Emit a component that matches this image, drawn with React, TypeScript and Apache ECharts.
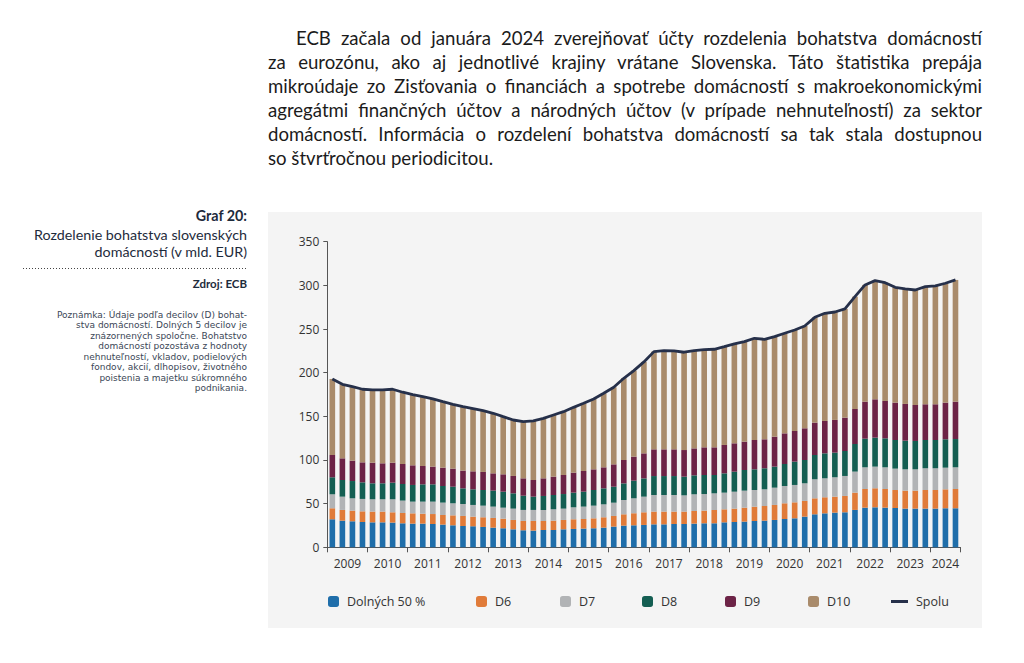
import React, { useEffect, useRef } from "react";
import * as echarts from "echarts";

const years = ["2009","2010","2011","2012","2013","2014","2015","2016","2017","2018","2019","2020","2021","2022","2023","2024"];
const quartersPerYear = ["Q1","Q2","Q3","Q4"];
const lastQuarter = "2024Q3";

const dolnych50 = [32.1,30.5,29.8,29.0,28.6,28.6,28.3,27.5,27.1,27.1,26.7,26.0,25.2,24.4,24.1,23.3,22.5,21.8,20.6,19.5,19.1,19.8,19.8,20.6,21.0,21.4,21.8,22.5,23.7,24.8,25.2,25.6,26.3,26.3,26.7,26.7,27.1,27.5,27.5,28.6,29.0,29.4,30.1,30.5,31.3,32.4,33.2,35.1,37.8,38.9,39.7,40.1,42.8,45.4,45.8,45.4,45.0,44.3,44.3,44.3,44.3,44.7,44.7];
const d6 = [12.6,12.3,12.2,12.2,12.3,12.3,11.8,11.8,11.8,11.4,11.4,11.0,11.4,11.5,11.0,11.1,11.1,11.0,10.7,10.7,11.1,10.3,10.7,10.7,11.1,11.0,11.4,11.9,12.2,13.0,13.8,14.5,14.6,14.6,14.2,14.2,14.5,14.5,15.2,14.9,15.3,16.0,16.4,16.8,17.2,18.0,18.3,18.0,18.3,18.4,18.3,18.7,19.8,21.4,21.8,21.4,20.6,20.6,20.6,21.3,21.3,21.7,22.1];
const d7 = [16.0,15.2,14.1,14.2,14.1,14.1,14.9,14.2,13.4,13.8,14.2,14.2,13.8,13.7,13.4,13.3,13.0,12.6,13.0,12.6,12.6,12.6,13.0,13.0,13.7,14.2,14.5,14.8,15.2,16.4,17.1,17.9,19.0,19.0,19.0,18.6,19.1,19.0,19.1,19.1,19.4,19.5,19.1,19.1,19.8,19.8,19.9,20.2,21.8,21.7,22.2,22.9,24.1,24.8,24.8,24.8,24.5,24.4,24.4,24.9,24.9,24.8,24.8];
const d8 = [19.5,19.1,19.8,19.0,18.3,18.3,19.0,19.0,19.1,19.8,19.8,19.0,19.0,17.9,17.9,17.9,18.3,18.3,17.5,16.3,15.2,16.1,16.4,16.7,16.8,17.1,17.9,18.3,18.3,19.0,20.2,20.9,21.7,21.7,21.7,21.4,21.7,21.8,21.0,22.1,22.9,23.6,23.7,24.1,24.1,25.2,26.7,26.7,27.8,28.6,28.2,28.6,31.6,32.8,33.2,33.2,32.8,32.8,32.5,32.4,32.4,32.5,32.4];
const d9 = [25.5,24.8,23.3,22.9,23.6,22.9,22.9,22.9,22.5,21.0,20.3,21.0,20.7,20.3,20.6,20.7,19.8,19.9,19.9,19.9,19.1,20.2,21.0,21.8,22.9,23.7,23.7,24.1,25.6,26.8,27.5,28.7,30.6,30.6,30.6,30.5,30.9,31.7,31.7,32.5,32.5,32.5,33.6,33.2,34.3,35.1,35.1,36.3,37.1,37.1,37.5,38.2,40.1,42.4,43.9,42.8,42.8,42.1,41.2,40.9,40.9,42.0,42.8];
const d10 = [87.1,84.8,84.8,83.7,83.3,84.0,84.1,82.2,80.9,79.4,77.5,75.6,73.7,73.3,71.8,70.2,68.8,66.0,64.1,64.9,67.6,68.7,70.6,72.5,74.8,77.5,80.6,84.8,88.3,93.6,98.5,104.7,111.9,113.0,112.7,112.0,111.9,111.8,112.3,112.6,113.8,114.5,116.5,114.5,114.5,114.6,115.7,117.2,120.6,123.3,123.6,124.5,128.7,133.7,135.9,135.5,132.1,131.7,131.7,134.7,135.5,136.7,139.4];
const spolu = [192.8,186.7,184.0,181.0,180.2,180.2,181.0,177.6,174.8,172.5,169.9,166.8,163.8,161.1,158.8,156.5,153.5,149.6,145.8,143.9,144.7,147.7,151.5,155.3,160.3,164.9,169.9,176.4,183.3,193.6,202.3,212.3,224.1,225.2,224.9,223.4,225.2,226.3,226.8,229.8,232.9,235.5,239.4,238.2,241.2,245.1,248.9,253.5,263.4,268.0,269.5,273.0,287.1,300.5,305.4,303.1,297.8,295.9,294.7,298.5,299.3,302.4,306.2];

const yTicks = { min: 0, max: 350, interval: 50 };

const seriesNames = ["Dolných 50 %", "D6", "D7", "D8", "D9", "D10", "Spolu"];
const seriesColors = ["#1f6eaa", "#e07b39", "#b1b3b5", "#145e52", "#6c2346", "#a98b6b", "#26304a"];
const legendLefts = [328, 476, 560, 642, 725, 808, 891];

const paragraphLines = [
  "ECB začala od januára 2024 zverejňovať účty rozdelenia bohatstva domácností",
  "za eurozónu, ako aj jednotlivé krajiny vrátane Slovenska. Táto štatistika prepája",
  "mikroúdaje zo Zisťovania o financiách a spotrebe domácností s makroekonomickými",
  "agregátmi finančných účtov a národných účtov (v prípade nehnuteľností) za sektor",
  "domácností. Informácia o rozdelení bohatstva domácností sa tak stala dostupnou",
  "so štvrťročnou periodicitou.",
];

const titleLines = ["Rozdelenie bohatstva slovenských", "domácností (v mld. EUR)"];
const noteLines = [
  "Poznámka: Údaje podľa decilov (D) bohat-",
  "stva domácností. Dolných 5 decilov je",
  "znázornených spoločne. Bohatstvo",
  "domácností pozostáva z hodnoty",
  "nehnuteľností, vkladov, podielových",
  "fondov, akcií, dlhopisov, životného",
  "poistenia a majetku súkromného",
  "podnikania.",
];

const categories: string[] = [];
for (const y of years) {
  for (const q of quartersPerYear) {
    if (categories.length && categories[categories.length - 1] === lastQuarter) break;
    categories.push(y + q);
  }
}

export default function App() {
  const ref = useRef<HTMLDivElement>(null);
  useEffect(() => {
    if (!ref.current) return;
    const chart = echarts.init(ref.current, null, { renderer: "svg" });
    const barData = [dolnych50, d6, d7, d8, d9, d10];
    const font = "'Open Sans', sans-serif";
    const side = "Lato, sans-serif";
    const graphic: any[] = [
      { type: "text", x: 247, y: 208, style: { text: "Graf 20:", align: "right", verticalAlign: "top", font: `bold 14.3px ${side}`, fill: "#1e2b3c" } },
      { type: "text", x: 247, y: 226, style: { text: titleLines.join("\n"), align: "right", verticalAlign: "top", lineHeight: 17, font: `14.3px ${side}`, fill: "#1e2b3c" } },
      { type: "line", shape: { x1: 23, y1: 268.5, x2: 248, y2: 268.5 }, style: { stroke: "#444", lineWidth: 1, lineDash: [1, 2] } },
      { type: "text", x: 247, y: 277, style: { text: "Zdroj: ECB", align: "right", verticalAlign: "top", font: `bold 11.5px ${side}`, fill: "#1e2b3c" } },
      { type: "text", x: 247, y: 309.3, style: { text: noteLines.join("\n"), align: "right", verticalAlign: "top", lineHeight: 10.5, font: `9px 'DejaVu Sans', sans-serif`, fill: "#3a4656" } },
    ];
    const option: any = {
      animation: false,
      graphic,
      grid: { left: 327.3, right: 63.5, top: 241.7, bottom: 115.7, containLabel: false },
      legend: seriesNames.map((n, i) => ({
        data: [i === 6 ? { name: n, icon: "rect" } : n],
        left: legendLefts[i],
        top: 595,
        itemWidth: i === 6 ? 17 : 11,
        itemHeight: i === 6 ? 3 : 11,
        padding: 0,
        selectedMode: false,
        textStyle: { fontFamily: font, fontSize: 12.5, color: "#333", padding: [0, 0, 0, 3] },
      })),
      xAxis: {
        type: "category",
        data: categories,
        boundaryGap: true,
        axisLine: { show: true, lineStyle: { color: "#555", width: 1 } },
        axisTick: { show: true, length: 5, lineStyle: { color: "#555" }, interval: (idx: number) => idx % 4 === 0 },
        axisLabel: {
          interval: (idx: number) => idx % 4 === 1,
          margin: 10,
          formatter: (v: string) => {
            const y = v.slice(0, 4);
            return y === "2024" ? `{c|${y}}` : `{s|${y}}`;
          },
          rich: {
            s: { padding: [0, 0, 0, 10], fontFamily: font, fontSize: 12, color: "#333" },
            c: { fontFamily: font, fontSize: 12, color: "#333" },
          },
        },
        splitLine: { show: false },
      },
      yAxis: {
        type: "value",
        min: yTicks.min,
        max: yTicks.max,
        interval: yTicks.interval,
        axisLine: { show: true, lineStyle: { color: "#555", width: 1 } },
        axisTick: { show: true, length: 4, lineStyle: { color: "#555" } },
        axisLabel: { margin: 8, fontFamily: font, fontSize: 12, color: "#333" },
        splitLine: { show: false },
      },
      series: [
        ...barData.map((d, i) => ({
          name: seriesNames[i],
          type: "bar",
          stack: "total",
          data: d,
          barCategoryGap: "44%",
          itemStyle: { color: seriesColors[i] },
        })),
        {
          name: "Spolu",
          type: "line",
          data: spolu,
          symbol: "none",
          lineStyle: { color: seriesColors[6], width: 2.8 },
          itemStyle: { color: seriesColors[6] },
          z: 5,
        },
      ],
    };
    chart.setOption(option);
    return () => chart.dispose();
  }, []);

  return (
    <div style={{ position: "absolute", left: 0, top: 0, width: 1024, height: 663, background: "#fff", overflow: "hidden" }}>
      <div style={{ position: "absolute", left: 268, top: 212, width: 714, height: 416, background: "#f4f4f4" }} />
      <div style={{ position: "absolute", left: 268, top: 26, width: 714, fontFamily: "Lato, sans-serif", fontSize: 18.6, lineHeight: "24px", color: "#1b1b1b" }}>
        {paragraphLines.map((l, i) => (
          <div
            key={i}
            style={{
              whiteSpace: "nowrap",
              textAlign: "justify",
              textAlignLast: i === paragraphLines.length - 1 ? "left" : "justify",
              paddingLeft: i === 0 ? 28 : 0,
            }}
          >
            {l}
          </div>
        ))}
      </div>
      <div ref={ref} style={{ position: "absolute", left: 0, top: 0, width: 1024, height: 663 }} />
    </div>
  );
}
